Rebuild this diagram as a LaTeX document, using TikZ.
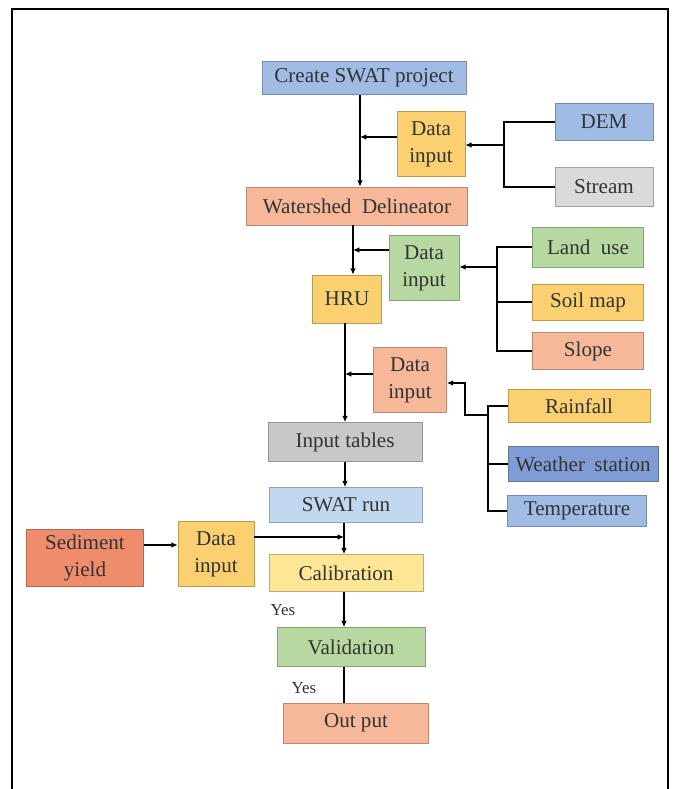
\documentclass[tikz,border=0pt]{standalone}
\usepackage{fontspec}
\setmainfont{Liberation Serif}
\usepackage{tikz}
\usetikzlibrary{arrows.meta}

\definecolor{swblue}{RGB}{160,188,228}
\definecolor{swlblue}{RGB}{194,216,240}
\definecolor{swdblue}{RGB}{128,156,212}
\definecolor{swyellow}{RGB}{251,208,112}
\definecolor{swlyellow}{RGB}{253,230,150}
\definecolor{sworange}{RGB}{246,184,152}
\definecolor{swdorange}{RGB}{238,140,108}
\definecolor{swgreen}{RGB}{184,216,162}
\definecolor{swgray}{RGB}{200,200,200}
\definecolor{swlgray}{RGB}{218,218,218}

\begin{document}
\begin{tikzpicture}[x=0.025cm, y=-0.025cm,
	every node/.style={font=\fontsize{15}{19}\selectfont, text=black!80},
	box/.style={draw=#1!75!black, line width=0.4pt, fill=#1, inner sep=0pt, align=center},
	link/.style={line width=0.9pt},
	arr/.style={link, -{Latex[length=4.5pt,width=4pt]}},
	yes/.style={font=\fontsize{12}{14}\selectfont}]
	\useasboundingbox (0,0) rectangle (672,789);
	\draw[line width=1.2pt] (12,789) -- (12,9) -- (668,9) -- (668,789);
	% main chain
	\node[box=swblue, minimum width=5.1cm, minimum height=0.825cm] (create) at (364,78) {Create SWAT project};
	\node[box=sworange, minimum width=5.525cm, minimum height=0.95cm] (wsd) at (357,206) {Watershed\ \ Delineator};
	\node[box=swyellow, minimum width=1.725cm, minimum height=1.2cm] (hru) at (347,299) {HRU};
	\node[box=swgray, minimum width=3.85cm, minimum height=0.975cm] (tables) at (345,442) {Input tables};
	\node[box=swlblue, minimum width=3.825cm, minimum height=0.875cm] (run) at (346,505) {SWAT run};
	\node[box=swlyellow, minimum width=3.85cm, minimum height=0.925cm] (calib) at (346,573) {Calibration};
	\node[box=swgreen, minimum width=3.7cm, minimum height=0.975cm] (valid) at (351,647) {Validation};
	\node[box=sworange, minimum width=3.625cm, minimum height=1cm] (output) at (356,723) {Out put};
	% data inputs
	\node[box=swyellow, minimum width=1.7cm, minimum height=1.625cm] (din1) at (431,144) {Data\\input};
	\node[box=swgreen, minimum width=1.75cm, minimum height=1.625cm] (din2) at (424,268) {Data\\input};
	\node[box=sworange, minimum width=1.825cm, minimum height=1.625cm] (din3) at (410,380) {Data\\input};
	\node[box=swyellow, minimum width=1.9cm, minimum height=1.625cm] (din4) at (216,554) {Data\\input};
	% sources
	\node[box=swblue, minimum width=2.45cm, minimum height=0.925cm] (dem) at (604,122) {DEM};
	\node[box=swlgray, minimum width=2.45cm, minimum height=0.975cm] (stream) at (604,187) {Stream};
	\node[box=swgreen, minimum width=2.775cm, minimum height=1cm] (landuse) at (588,247) {Land\ \ use};
	\node[box=swyellow, minimum width=2.775cm, minimum height=0.9cm] (soil) at (588,302) {Soil map};
	\node[box=sworange, minimum width=2.775cm, minimum height=0.925cm] (slope) at (588,351) {Slope};
	\node[box=swyellow, minimum width=3.55cm, minimum height=0.825cm] (rain) at (579,406) {Rainfall};
	\node[box=swdblue, minimum width=3.75cm, minimum height=0.875cm] (weather) at (583,464) {Weather\hspace{3pt} station};
	\node[box=swblue, minimum width=3.475cm, minimum height=0.775cm] (temp) at (577,511) {Temperature};
	\node[box=swdorange, minimum width=2.925cm, minimum height=1.425cm] (sed) at (85,558) {Sediment\\yield};
	\node[yes] (yes1) at (283,610) {Yes};
	\node[yes] (yes2) at (304,688) {Yes};
	% junctions
	\coordinate (j1) at (360,137);
	\coordinate (j2) at (353,250);
	\coordinate (j3) at (345,374);
	\coordinate (j4) at (344,537);
	\coordinate (j5) at (160,545);
	\coordinate (b1) at (504,145);
	\coordinate (b2) at (497,267);
	\coordinate (b3) at (465,383);
	\coordinate (k3) at (488,415);
	% connectors
	\draw[arr] (create.south -| j1) -- (wsd.north -| j1);
	\draw[arr] (din1.west |- j1) -- (j1);
	\draw[link] (dem.west) -| (b1) |- (stream.west);
	\draw[arr] (b1) -- (din1.east |- b1);
	\draw[arr] (wsd.south -| j2) -- (hru.north -| j2);
	\draw[arr] (din2.west |- j2) -- (j2);
	\draw[link] (landuse.west) -| (b2) |- (slope.west);
	\draw[link] (b2 |- soil.west) -- (soil.west);
	\draw[arr] (b2) -- (din2.east |- b2);
	\draw[arr] (hru.south -| j3) -- (tables.north -| j3);
	\draw[arr] (din3.west |- j3) -- (j3);
	\draw[arr] (k3) -| (b3) -- (din3.east |- b3);
	\draw[link] (rain.west) -| (k3) |- (temp.west);
	\draw[link] (weather.west -| k3) -- (weather.west);
	\draw[arr] (tables.south) -- (tables.south |- run.north);
	\draw[arr] (run.south -| j4) -- (calib.north -| j4);
	\draw[arr] (din4.east |- j4) -- (j4);
	\draw[arr] (sed.east |- j5) -- (din4.west |- j5);
	\draw[arr] (calib.south -| j4) -- (valid.north -| j4);
	\draw[link] (valid.south -| j4) -- (output.north -| j4);
\end{tikzpicture}
\end{document}
